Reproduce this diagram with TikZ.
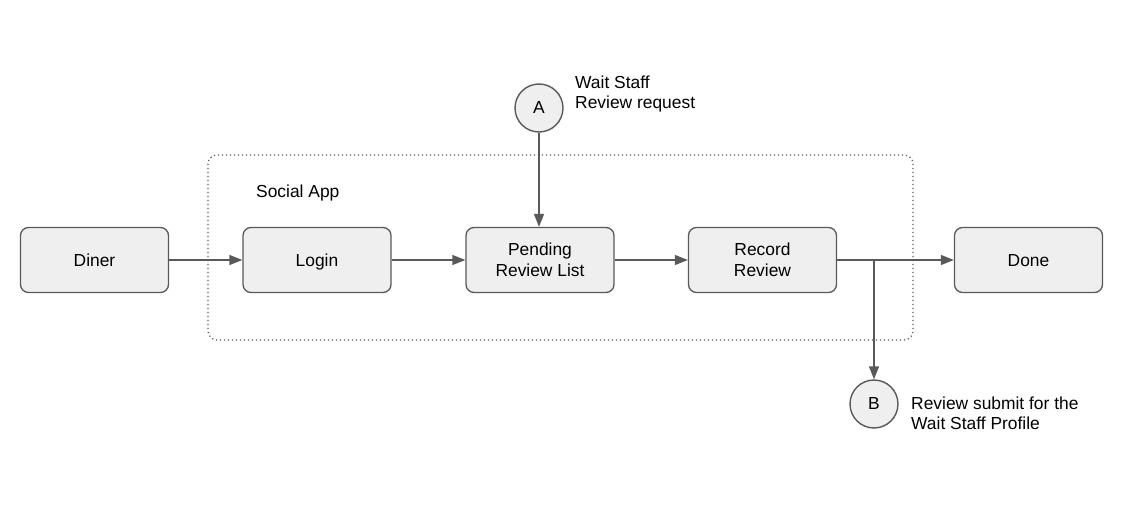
\documentclass[tikz,border=0pt]{standalone}
\usepackage{fontspec}
\setmainfont{Liberation Sans}
\usetikzlibrary{arrows.meta}
\definecolor{linec}{HTML}{595959}
\definecolor{boxfill}{HTML}{EFEFEF}
\begin{document}
\begin{tikzpicture}[x=1pt,y=1pt,
  every node/.style={font=\fontsize{17.4}{20.5}\selectfont},
  procbox/.style={draw=linec, line width=1.3pt, fill=boxfill, rounded corners=8pt,
    minimum width=148pt, minimum height=65pt, align=center, inner sep=0pt},
  onebox/.style={procbox, text height=12.5pt, text depth=0pt},
  conn/.style={draw=linec, line width=1.4pt, fill=boxfill, circle, minimum size=48pt, inner sep=0pt},
  flow/.style={draw=linec, line width=1.4pt, -{Triangle[length=13pt,width=10pt]}},
  lbl/.style={align=left, anchor=west, inner sep=0pt}
]
\useasboundingbox (0,0) rectangle (1122,520);
% container
\draw[linec, line width=1.2pt, dash pattern=on 1.2pt off 2.8pt, rounded corners=9pt]
  (208,365) rectangle (913,180);
\node[lbl] (social) at (256,327) {Social App};
% boxes
\node[onebox] (diner) at (94.5,260) {Diner};
\node[onebox] (login) at (317,260) {Login};
\node[procbox] (pend) at (540,260) {Pending\\Review List};
\node[procbox] (rec) at (762.5,260) {Record\\Review};
\node[onebox] (done) at (1028.5,260) {Done};
% connectors
\node[conn] (ca) at (539,412) {A};
\node[lbl] (la) at (575,426) {Wait Staff\\Review request};
\node[conn] (cb) at (874,116) {B};
\node[lbl] (lb) at (911,106.5) {Review submit for the\\Wait Staff Profile};
\coordinate (br) at (874,260);
% arrows
\draw[flow] (diner) -- (login);
\draw[flow] (login) -- (pend);
\draw[flow] (pend) -- (rec);
\draw[flow] (rec) -- (done);
\draw[flow] (ca) -- (pend.north -| ca);
\draw[flow] (br) -- (cb);
\end{tikzpicture}
\end{document}
